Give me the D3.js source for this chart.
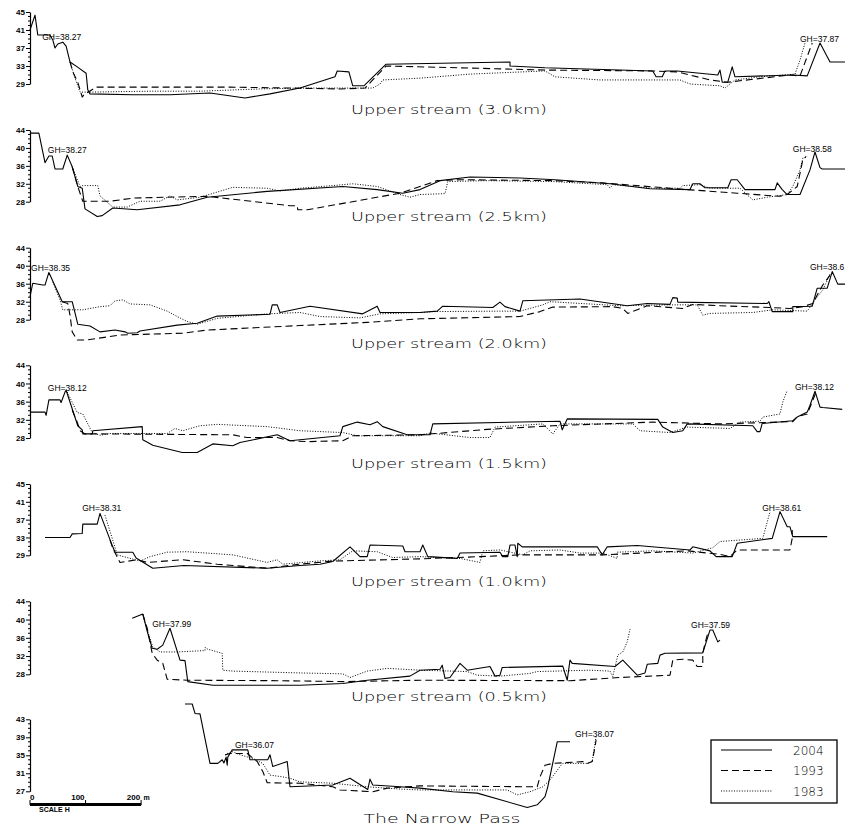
<!DOCTYPE html>
<html><head><meta charset="utf-8">
<script src="https://cdn.jsdelivr.net/npm/d3@7/dist/d3.min.js"></script>
<style>body{margin:0;background:#fff}svg{display:block}</style>
</head><body><svg id="c" width="845" height="827"></svg>
<script>
// ---------- data: [distance (m), elevation (m)] ----------
const titles = ["Upper stream (3.0km)","Upper stream (2.5km)","Upper stream (2.0km)","Upper stream (1.5km)","Upper stream (1.0km)","Upper stream (0.5km)","The Narrow Pass"];
const years = ["2004","1993","1983"];

const ticks30=[29,33,37,41,45], ticks25=[28,32,36,40,44], ticks20=[28,32,36,40,44], ticks15=[28,32,36,40,44], ticks10=[29,33,37,41,45], ticks05=[28,32,36,40,44], ticks00=[27,31,35,39,43];

const s30_2004=[[0,41.0],[9,44.3],[14,39.9],[31,39.9],[36,39.9],[41,38.8],[45,37.0],[50,37.9],[59,38.3],[65,37.4],[72,33.9],[85,32.8],[101,31.4],[104,27.7],[108,26.8],[185,26.6],[252,26.6],[324,27.0],[387,25.9],[432,26.8],[486,28.1],[549,30.6],[553,31.9],[574,31.7],[581,28.6],[601,28.6],[641,33.4],[864,33.9],[864,33.0],[927,32.6],[1121,31.9],[1127,30.6],[1138,30.6],[1143,31.9],[1165,31.9],[1238,31.0],[1242,32.1],[1246,29.4],[1256,29.4],[1264,32.8],[1269,30.6],[1372,31.0],[1399,30.8],[1422,38.1],[1440,33.9],[1467,33.9]];
const s30_1993=[[72,33.9],[77,31.7],[86,29.4],[94,26.1],[97,26.6],[119,28.3],[360,28.3],[468,28.1],[558,27.9],[603,28.1],[641,33.0],[774,32.6],[927,32.1],[1121,31.9],[1165,31.7],[1224,29.9],[1256,29.4],[1368,31.0],[1386,30.8],[1408,38.1]];
const s30_1983=[[72,33.9],[81,30.3],[90,27.2],[108,27.2],[216,27.4],[306,27.4],[414,27.9],[486,28.1],[617,28.1],[630,29.0],[635,29.9],[702,30.3],[792,31.2],[927,31.9],[945,30.6],[1026,29.9],[1170,29.9],[1188,29.0],[1242,28.6],[1251,28.1],[1269,29.9],[1314,30.6],[1377,31.2],[1386,34.3],[1395,38.1]];

const s25_2004=[[0,43.3],[16,43.3],[27,36.7],[34,38.2],[40,38.2],[45,35.3],[59,35.3],[67,38.4],[76,35.8],[86,31.4],[94,31.0],[99,26.4],[121,24.7],[130,24.9],[149,26.6],[193,26.2],[270,27.3],[319,29.0],[427,30.3],[563,31.4],[625,30.7],[671,29.9],[702,30.7],[738,32.7],[792,33.5],[882,33.3],[945,32.9],[1044,32.0],[1116,30.9],[1188,30.7],[1193,32.0],[1206,32.0],[1215,31.1],[1256,31.1],[1262,32.9],[1273,32.9],[1287,30.7],[1341,30.7],[1345,32.2],[1354,30.7],[1363,29.6],[1386,29.6],[1404,35.1],[1413,39.1],[1422,35.6],[1426,35.3],[1467,35.3]];
const s25_1993=[[76,35.8],[86,31.4],[95,28.1],[144,28.1],[185,28.8],[247,29.0],[319,29.2],[468,27.1],[481,27.1],[482,26.2],[499,26.2],[666,29.9],[702,31.4],[733,32.7],[774,32.9],[941,32.7],[1031,32.2],[1183,30.7],[1273,29.9],[1350,29.2],[1363,29.6],[1381,31.4],[1391,37.3],[1397,38.1]];
const s25_1983=[[76,35.8],[90,31.4],[95,31.6],[122,31.6],[126,29.3],[149,26.8],[175,26.8],[198,28.1],[234,28.1],[252,29.3],[265,28.4],[306,29.0],[365,31.2],[427,31.0],[450,30.4],[486,31.0],[545,31.6],[581,32.0],[625,31.4],[666,29.6],[684,29.0],[702,29.6],[747,29.8],[752,32.5],[823,32.7],[941,32.5],[1039,31.8],[1044,31.0],[1049,31.8],[1121,31.0],[1170,31.0],[1175,31.6],[1206,31.8],[1224,31.0],[1278,31.0],[1301,28.4],[1327,29.0],[1363,29.6],[1373,31.4],[1386,35.1],[1391,37.7],[1399,38.0]];

const s20_2004=[[0,33.1],[5,36.1],[23,35.7],[27,35.7],[34,38.5],[58,32.0],[76,32.0],[86,27.0],[108,26.6],[126,25.3],[153,25.7],[171,25.3],[176,25.0],[193,25.1],[198,25.5],[265,26.8],[301,27.2],[337,28.8],[432,29.2],[436,31.3],[445,31.3],[450,29.6],[504,31.0],[599,29.3],[625,31.0],[630,29.6],[702,29.6],[733,29.9],[743,31.0],[833,30.7],[846,31.9],[855,30.9],[882,29.9],[887,32.2],[990,32.6],[1075,31.1],[1111,31.6],[1152,31.4],[1157,32.9],[1165,32.8],[1166,31.9],[1327,31.6],[1330,32.0],[1336,29.8],[1373,29.8],[1373,30.9],[1408,31.0],[1417,35.0],[1435,35.0],[1444,38.7],[1454,35.9],[1467,35.9]];
const s20_1993=[[58,32.0],[68,31.6],[72,29.0],[76,25.3],[85,23.5],[103,23.5],[162,24.6],[275,25.0],[319,25.7],[486,26.7],[607,27.4],[702,28.2],[882,28.7],[918,29.8],[941,30.8],[1049,30.9],[1067,30.5],[1076,29.4],[1111,31.1],[1175,30.5],[1193,31.4],[1242,31.1],[1332,30.7],[1368,30.5],[1391,30.9],[1409,31.6],[1417,33.5],[1427,35.7],[1440,37.9]];
const s20_1983=[[41,36.4],[54,32.4],[59,30.2],[95,30.2],[126,30.9],[144,31.1],[153,32.2],[167,32.4],[180,31.5],[216,31.3],[247,29.9],[265,28.7],[283,27.6],[301,27.0],[337,28.3],[427,29.3],[486,29.6],[522,28.7],[594,28.4],[630,29.3],[702,29.6],[725,29.8],[841,29.9],[882,29.9],[923,31.3],[936,32.0],[1062,31.1],[1157,31.3],[1201,31.3],[1211,29.0],[1224,29.4],[1301,29.6],[1337,30.2],[1399,29.9],[1417,33.1],[1427,34.6],[1440,38.1]];

const s15_2004=[[0,33.7],[27,33.7],[29,33.0],[34,36.4],[54,36.4],[56,35.8],[63,38.1],[65,38.5],[86,30.7],[94,29.8],[95,28.9],[112,28.9],[113,29.6],[202,30.5],[203,27.6],[221,26.4],[274,24.8],[301,24.8],[329,26.7],[365,26.3],[378,27.0],[445,28.7],[468,27.4],[558,28.5],[563,30.5],[589,31.5],[612,30.9],[625,31.6],[635,30.5],[679,28.7],[720,28.7],[725,31.1],[954,31.7],[958,29.8],[967,32.2],[1130,32.1],[1139,30.4],[1157,29.2],[1175,29.6],[1183,31.1],[1301,30.7],[1309,29.4],[1314,29.4],[1318,31.2],[1373,31.8],[1381,32.6],[1399,33.7],[1404,35.2],[1413,38.3],[1422,34.8],[1427,34.7],[1462,34.3]];
const s15_1993=[[76,34.1],[85,31.5],[90,29.6],[99,28.9],[126,28.9],[365,28.7],[391,28.1],[445,28.1],[468,27.4],[499,27.2],[563,27.4],[581,28.5],[702,28.7],[823,29.9],[941,30.7],[1121,31.5],[1242,31.1],[1373,31.6],[1381,32.7],[1399,33.3],[1409,36.3],[1415,38.1]];
const s15_1983=[[67,38.1],[85,33.6],[95,33.3],[112,29.2],[126,28.6],[144,29.0],[247,29.0],[261,30.1],[275,29.6],[306,30.7],[337,31.0],[427,30.5],[486,29.6],[563,29.2],[589,28.5],[702,28.5],[720,29.1],[792,28.1],[828,28.1],[837,30.4],[923,31.1],[941,28.9],[954,31.1],[1085,31.1],[1098,29.6],[1152,29.2],[1183,30.4],[1260,30.1],[1278,31.5],[1314,31.7],[1319,32.6],[1350,33.3],[1355,35.9],[1363,38.5]];

const s10_2004=[[27,33.0],[72,33.0],[76,33.8],[94,33.9],[95,36.0],[121,36.0],[126,38.4],[149,30.9],[153,29.7],[185,29.7],[191,28.4],[221,26.1],[277,26.7],[427,26.1],[486,26.7],[522,27.0],[545,27.6],[576,30.9],[594,28.7],[607,28.7],[612,31.3],[671,31.1],[675,29.8],[702,29.8],[707,31.3],[716,28.7],[769,28.3],[774,29.5],[846,29.7],[851,28.7],[860,28.7],[864,31.3],[873,31.3],[877,28.7],[878,31.7],[886,30.9],[1021,30.9],[1030,29.1],[1039,30.9],[1093,31.2],[1188,30.2],[1193,30.9],[1224,30.0],[1235,28.7],[1264,28.7],[1273,31.7],[1336,32.8],[1350,38.8],[1363,35.4],[1368,35.4],[1373,33.2],[1435,33.2]];
const s10_1993=[[144,32.4],[149,30.6],[162,27.4],[193,28.0],[211,27.4],[275,28.0],[337,27.0],[427,26.1],[486,27.0],[545,27.7],[702,28.2],[810,28.7],[882,29.1],[1031,29.1],[1183,30.0],[1242,29.2],[1260,28.7],[1273,30.2],[1368,30.2],[1372,32.8],[1372,34.7]];
const s10_1983=[[135,38.0],[149,32.4],[157,29.1],[198,27.7],[216,28.7],[247,29.7],[283,29.8],[365,29.1],[427,27.4],[445,28.0],[455,27.0],[517,27.7],[558,28.0],[581,30.0],[625,29.8],[653,28.5],[702,28.7],[774,28.3],[810,27.4],[815,30.0],[846,30.2],[887,29.1],[900,30.0],[954,30.2],[990,29.5],[1031,29.5],[1057,28.3],[1057,29.7],[1121,30.0],[1193,29.5],[1229,30.7],[1242,32.1],[1319,32.8],[1332,38.8]];

const s05_2004=[[184,40.3],[203,41.2],[212,37.0],[220,33.7],[229,33.5],[239,34.4],[252,38.1],[270,31.1],[279,31.0],[284,26.4],[329,25.6],[486,25.6],[563,26.0],[607,26.7],[684,27.6],[702,28.9],[738,29.1],[742,30.0],[747,27.1],[756,27.3],[774,30.4],[787,28.9],[828,29.7],[837,27.6],[846,27.8],[850,29.5],[959,29.8],[967,26.7],[972,31.1],[976,30.4],[1053,29.7],[1067,31.1],[1093,27.8],[1107,28.3],[1111,30.2],[1130,30.4],[1134,32.2],[1143,32.6],[1211,32.7],[1224,37.7],[1229,37.7],[1238,35.1],[1242,35.5]];
const s05_1993=[[203,41.2],[211,38.1],[220,32.6],[229,31.1],[239,30.4],[247,26.9],[283,26.7],[445,26.6],[563,26.4],[702,26.7],[972,26.6],[1062,27.3],[1152,27.8],[1157,31.1],[1175,31.3],[1193,31.1],[1201,29.7],[1211,29.7],[1211,32.6],[1215,34.8],[1220,37.0]];
const s05_1983=[[203,41.2],[211,37.7],[221,34.0],[234,32.9],[265,32.9],[315,33.2],[315,33.9],[320,33.5],[346,32.6],[347,28.9],[365,28.7],[486,28.3],[563,28.1],[576,27.3],[607,28.7],[643,29.3],[702,28.9],[787,28.6],[805,27.8],[846,27.6],[900,28.2],[913,28.6],[1008,28.9],[1044,28.7],[1049,27.5],[1058,32.2],[1067,32.9],[1075,35.1],[1080,37.9]];

const s00_2004=[[279,46.4],[292,46.4],[297,44.3],[306,44.2],[324,33.2],[338,33.2],[346,34.0],[349,33.3],[353,34.6],[355,32.8],[356,34.6],[364,36.2],[392,36.2],[396,34.0],[428,34.0],[432,35.1],[437,32.5],[463,33.6],[468,28.0],[545,28.4],[576,29.9],[608,27.4],[612,29.7],[617,28.4],[666,28.0],[702,27.7],[761,26.9],[805,26.6],[895,23.4],[913,24.0],[927,25.8],[932,28.0],[949,38.0],[972,38.0]];
const s00_1993=[[351,35.1],[360,35.4],[391,35.4],[409,33.6],[419,31.4],[427,28.9],[486,28.8],[545,28.0],[558,27.3],[617,26.9],[643,27.7],[702,28.2],[913,28.0],[918,30.2],[927,32.8],[941,33.2],[995,33.6],[1003,33.2],[1012,33.6],[1017,36.9],[1019,38.4]];
const s00_1983=[[355,35.4],[365,35.8],[378,35.1],[401,34.3],[419,33.2],[432,30.6],[455,30.2],[468,29.9],[486,29.1],[545,28.8],[607,28.0],[666,27.5],[702,27.3],[859,27.3],[877,26.2],[900,26.9],[923,28.0],[936,29.5],[954,32.5],[959,33.2],[1003,33.2],[1012,33.6],[1017,37.7],[1019,39.1]];

// GH labels: [text, distance, elevation]
const gh30=[["GH=38.27",22,38.8],["GH=37.87",1386,38.4]];
const gh25=[["GH=38.27",32,38.8],["GH=38.58",1373,39.0]];
const gh20=[["GH=38.35",2,38.8],["GH=38.6",1404,39.0]];
const gh15=[["GH=38.12",32,38.4],["GH=38.12",1377,38.5]];
const gh10=[["GH=38.31",94,39.0],["GH=38.61",1318,39.0]];
const gh05=[["GH=37.99",220,38.4],["GH=37.59",1190,38.1]];
const gh00=[["GH=36.07",369,36.6],["GH=38.07",981,39.1]];

const scaleTicks=[0,100,200];

// ---------- layout ----------
const svg=d3.select("#c");
const x=d3.scaleLinear().domain([0,1500]).range([30,30+1500/1.8]);
const panels=[
 {ticks:ticks30,top:12,bot:84,ty:113.5,series:[s30_2004,s30_1993,s30_1983],gh:gh30},
 {ticks:ticks25,top:130,bot:201.7,ty:221,series:[s25_2004,s25_1993,s25_1983],gh:gh25},
 {ticks:ticks20,top:247.7,bot:319.7,ty:348,series:[s20_2004,s20_1993,s20_1983],gh:gh20},
 {ticks:ticks15,top:365.3,bot:438,ty:468,series:[s15_2004,s15_1993,s15_1983],gh:gh15},
 {ticks:ticks10,top:484,bot:555.3,ty:586,series:[s10_2004,s10_1993,s10_1983],gh:gh10},
 {ticks:ticks05,top:601.3,bot:674.3,ty:701,series:[s05_2004,s05_1993,s05_1983],gh:gh05},
 {ticks:ticks00,top:719.3,bot:791.3,ty:823,series:[s00_2004,s00_1993,s00_1983],gh:gh00}
];
const styles=[{dash:null,w:1.1},{dash:"7,4",w:1.1},{dash:"1,1.6",w:1}];
const FONT="Liberation Sans, Arial, sans-serif";

panels.forEach((p,i)=>{
  const lo=p.ticks[0],hi=p.ticks[p.ticks.length-1];
  const y=d3.scaleLinear().domain([lo,hi]).range([p.bot,p.top]);
  const g=svg.append("g");
  g.selectAll("line.minor").data(d3.range(lo,hi+1).filter(v=>!p.ticks.includes(v))).join("line")
    .attr("x1",28).attr("x2",30).attr("y1",d=>y(d)).attr("y2",d=>y(d)).attr("stroke","#000").attr("stroke-width",1);
  const ax=g.append("g").attr("transform","translate(30,0)")
    .call(d3.axisLeft(y).tickValues(p.ticks).tickSize(4).tickSizeOuter(0).tickPadding(1).tickFormat(d3.format("d")));
  ax.select(".domain").attr("stroke-width",1.2);
  ax.selectAll("text").attr("font-family",FONT).attr("font-size",8).attr("font-weight","bold");
  const line=d3.line().x(d=>x(d[0])).y(d=>y(d[1]));
  p.series.forEach((s,k)=>{
    g.append("path").attr("d",line(s)).attr("fill","none").attr("stroke","#000")
      .attr("stroke-width",styles[k].w).attr("stroke-dasharray",styles[k].dash).attr("stroke-linejoin","round");
  });
  g.selectAll("text.gh").data(p.gh).join("text").attr("class","gh")
    .attr("x",d=>x(d[1])).attr("y",d=>y(d[2]))
    .attr("font-family",FONT).attr("font-size",8.5)
    .text(d=>d[0]);
  const isLast=i===panels.length-1;
  g.append("text").attr("x",isLast?442:449).attr("y",p.ty).attr("text-anchor","middle")
    .attr("font-family","DejaVu Sans, sans-serif").attr("font-weight",200).attr("font-size",13)
    .attr("textLength",isLast?157:196).attr("lengthAdjust","spacingAndGlyphs")
    .text(titles[i]);
});

// scale bar
const sb=svg.append("g");
sb.append("line").attr("x1",x(0)).attr("x2",x(200)).attr("y1",804.5).attr("y2",804.5).attr("stroke","#000").attr("stroke-width",3);
sb.selectAll("line.t").data(scaleTicks).join("line").attr("x1",d=>x(d)).attr("x2",d=>x(d)).attr("y1",800).attr("y2",805).attr("stroke","#000").attr("stroke-width",1);
sb.selectAll("text.t").data(scaleTicks).join("text")
  .attr("x",d=>d===0?x(d):x(d)-1).attr("y",800).attr("text-anchor",d=>d===0?"start":"end")
  .attr("font-family",FONT).attr("font-size",8).attr("font-weight","bold").text(d=>d);
sb.append("text").attr("x",x(200)+2.5).attr("y",800).attr("font-family",FONT).attr("font-size",7).attr("font-weight","bold").text("m");
sb.append("text").attr("x",39).attr("y",812).attr("font-family",FONT).attr("font-size",7).attr("font-weight","bold").text("SCALE H");

// legend
const lg=svg.append("g");
lg.append("rect").attr("x",711).attr("y",740).attr("width",126).attr("height",63).attr("fill","none").attr("stroke","#000").attr("stroke-width",1.3);
years.forEach((yr,k)=>{
  const yy=750+k*20.5;
  lg.append("line").attr("x1",721).attr("x2",772).attr("y1",yy).attr("y2",yy).attr("stroke","#000")
    .attr("stroke-width",styles[k].w).attr("stroke-dasharray",styles[k].dash);
  lg.append("text").attr("x",793).attr("y",yy+4.5).attr("font-family","DejaVu Sans, sans-serif").attr("font-weight",200)
    .attr("font-size",12).text(yr);
});
</script>
</body></html>
